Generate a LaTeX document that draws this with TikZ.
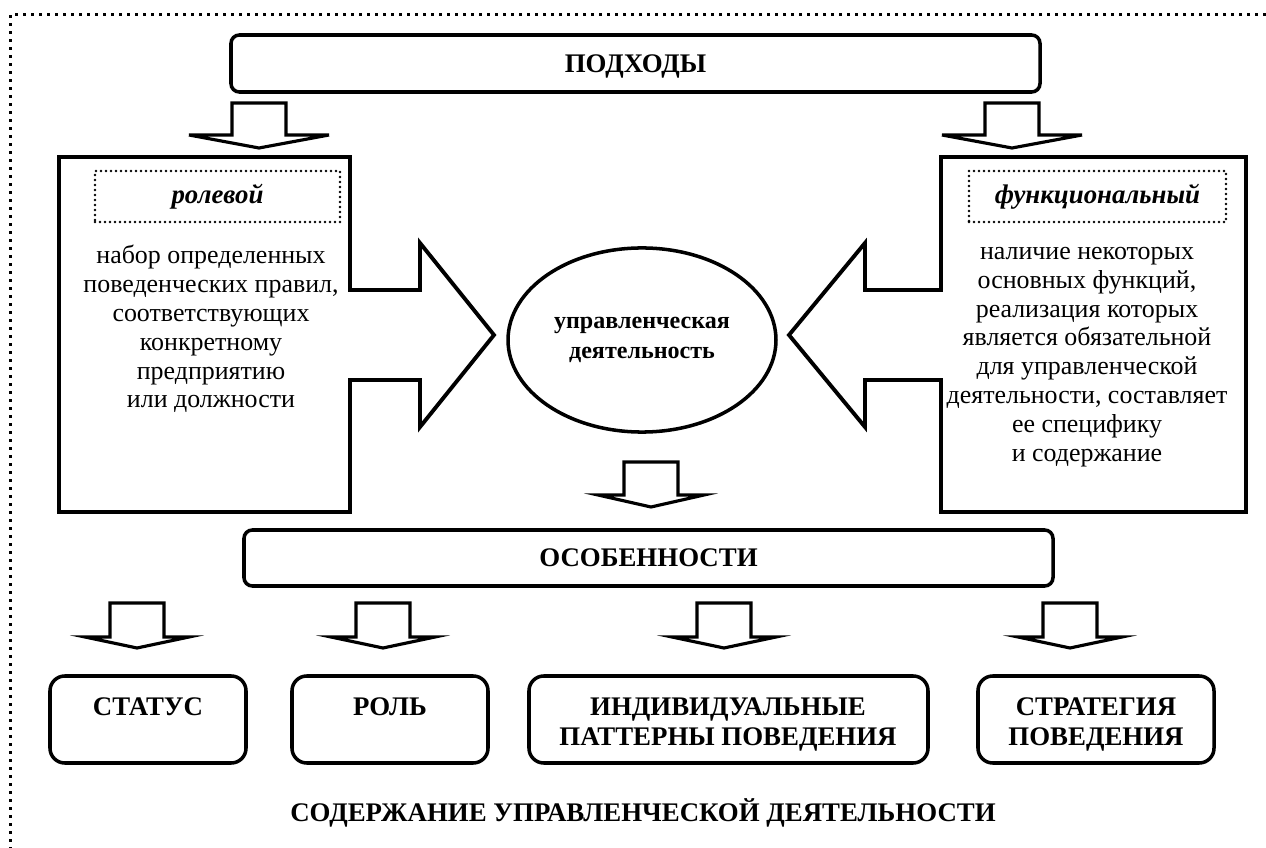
\documentclass[tikz,border=0pt]{standalone}
\usepackage{fontspec}
\setmainfont{Liberation Serif}
\usetikzlibrary{shapes.geometric,fit}

\tikzset{
  outline/.style={line width=2.1pt, line join=miter},
  blockarrow/.style={line width=1.7pt, line join=miter},
  roundbox/.style={draw, line width=1.9pt, rounded corners=4.5pt, inner sep=0pt},
  tile/.style={draw, line width=1.9pt, rounded corners=8pt, inner sep=0pt},
  dotbox/.style={draw, line width=1.5pt, line cap=round, dash pattern=on 0pt off 2.7pt, inner sep=0pt},
  tag/.style={inner sep=0pt, font=\fontsize{14.5}{16}\selectfont\bfseries\itshape},
  heading/.style={inner sep=0pt, align=center, font=\fontsize{14.5}{16.2}\selectfont\bfseries},
  bodytext/.style={inner sep=0pt, align=center, font=\fontsize{14}{15.6}\selectfont},
}

\begin{document}
\begin{tikzpicture}[x=0.54pt,y=-0.54pt]

\useasboundingbox (0,0) rectangle (1266,848);

% outer frame
\draw[line width=1.62pt, dash pattern=on 1.62pt off 2.7pt] (1266,15) -- (10,15) -- (10,848);

% top
\node[roundbox, fit={(231,35) (1040,92)}] (approach) {};
\node[heading, text depth=0pt] (approachtext) at (approach.center) {ПОДХОДЫ};

\draw[blockarrow] (232,103) -- ++(54,0) -- ++(0,32) -- ++(43,0) -- ++(-70,13) -- ++(-70,-13) -- ++(43,0) -- cycle;
\draw[blockarrow] (985,103) -- ++(54,0) -- ++(0,32) -- ++(43,0) -- ++(-70,13) -- ++(-70,-13) -- ++(43,0) -- cycle;

% left and right approach
\draw[outline] (59,157) -- (350,157) -- (350,290) -- (420,290) -- (420,243) -- (494,335) -- (420,427)
  -- (420,380) -- (350,380) -- (350,512) -- (59,512) -- cycle;
\draw[outline] (1246,157) -- (941,157) -- (941,290) -- (865,290) -- (865,243) -- (789,335) -- (865,427)
  -- (865,380) -- (941,380) -- (941,512) -- (1246,512) -- cycle;

\node[dotbox, fit={(95,171) (340,222)}] (role) {};
\node[tag] (roletag) at (role.center) {ролевой};
\node[dotbox, fit={(969,171) (1226,222)}] (function) {};
\node[tag] (functiontag) at (function.center) {функциональный};

\node[bodytext] (roletext) at (211,329) {набор определенных\\поведенческих правил,\\соответствующих\\конкретному\\предприятию\\или должности};
\node[bodytext] (functiontext) at (1087,357) {наличие некоторых\\основных функций,\\реализация которых\\является обязательной\\для управленческой\\деятельности, составляет\\ее специфику\\и содержание};

% centre
\node[draw, ellipse, line width=1.9pt, minimum width=144.7pt, minimum height=99.4pt, inner sep=0pt,
  align=center, font=\fontsize{13}{16.2}\selectfont\bfseries] (activity) at (642,340) {управленческая\\деятельность};

\draw[blockarrow] (624,462) -- ++(54,0) -- ++(0,33) -- ++(26,0) -- ++(-53,12) -- ++(-53,-12) -- ++(26,0) -- cycle;

\node[roundbox, fit={(244,530) (1053,586)}] (features) {};
\node[heading] (featurestext) at (features.center) {ОСОБЕННОСТИ};

% bottom row
\draw[blockarrow] (110,603) -- ++(54,0) -- ++(0,34) -- ++(25,0) -- ++(-52,11) -- ++(-52,-11) -- ++(25,0) -- cycle;
\draw[blockarrow] (356,603) -- ++(54,0) -- ++(0,34) -- ++(25,0) -- ++(-52,11) -- ++(-52,-11) -- ++(25,0) -- cycle;
\draw[blockarrow] (697,603) -- ++(54,0) -- ++(0,34) -- ++(25,0) -- ++(-52,11) -- ++(-52,-11) -- ++(25,0) -- cycle;
\draw[blockarrow] (1043,603) -- ++(54,0) -- ++(0,34) -- ++(25,0) -- ++(-52,11) -- ++(-52,-11) -- ++(25,0) -- cycle;

\node[tile, fit={(50,676) (246,763)}] (status) {};
\node[tile, fit={(292,676) (488,763)}] (rolebox) {};
\node[tile, fit={(529,676) (928,763)}] (patterns) {};
\node[tile, fit={(978,676) (1214,763)}] (strategy) {};

\node[heading, anchor=north] (statustext) at (148,697) {СТАТУС};
\node[heading, anchor=north] (roleboxtext) at (390,697) {РОЛЬ};
\node[heading, anchor=north] (patternstext) at (728,697) {ИНДИВИДУАЛЬНЫЕ\\ПАТТЕРНЫ ПОВЕДЕНИЯ};
\node[heading, anchor=north] (strategytext) at (1096,697) {СТРАТЕГИЯ\\ПОВЕДЕНИЯ};

\node[heading] (summary) at (643,813) {СОДЕРЖАНИЕ УПРАВЛЕНЧЕСКОЙ ДЕЯТЕЛЬНОСТИ};

\end{tikzpicture}
\end{document}
